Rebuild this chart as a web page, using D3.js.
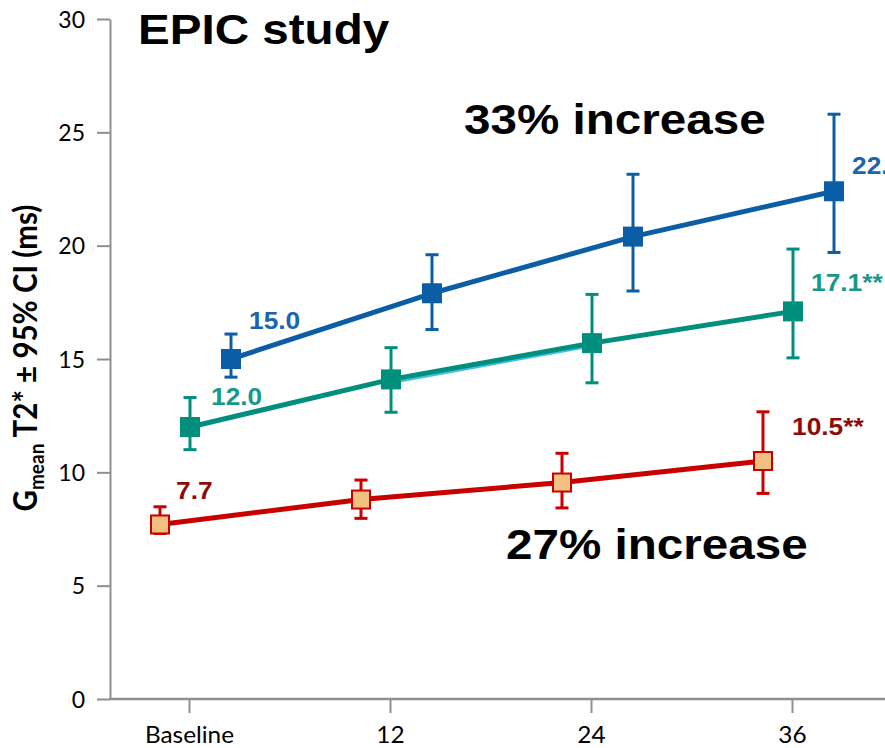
<!DOCTYPE html>
<html>
<head>
<meta charset="utf-8">
<script src="https://cdn.jsdelivr.net/npm/d3@7"></script>
<style>
  html, body { margin: 0; padding: 0; background: #fff; }
  svg { display: block; }
</style>
</head>
<body>
<svg id="chart" width="885" height="748"></svg>
<script>
// Time points (months) along the x axis
const categories = ["Baseline", "12", "24", "36"];
const yTicks = [0, 5, 10, 15, 20, 25, 30];

// Geometric mean T2* (ms) with 95% CI bounds, per cohort
const blueMean = [15.0, 17.9, 20.4, 22.4];
const blueLow  = [14.2, 16.3, 18.0, 19.7];
const blueHigh = [16.1, 19.6, 23.15, 25.8];

const tealMean = [12.0, 14.1, 15.7, 17.1];
const tealLow  = [11.0, 12.65, 13.95, 15.05];
const tealHigh = [13.3, 15.5, 17.85, 19.85];

// thin cyan trace lying just under the teal line (12 to 24 months)
const cyanMean = [null, 14.0, 15.62, null];

const redMean = [7.7, 8.8, 9.55, 10.5];
const redLow  = [7.3, 7.97, 8.43, 9.07];
const redHigh = [8.48, 9.66, 10.84, 12.67];

// value labels shown beside the first and last points
const blueLabels = ["15.0", null, null, "22.4"];
const tealLabels = ["12.0", null, null, "17.1**"];
const redLabels  = ["7.7", null, null, "10.5**"];

const svg = d3.select("#chart");

const axisX = 110, axisTop = 19, axisBottom = 699;
const x = d3.scalePoint().domain(categories).range([189, 792]);
const y = d3.scaleLinear().domain([0, 30]).range([axisBottom, axisTop]);

const axisColor = "#8f8f8f";
const tickFont = "Lato, 'Noto Sans', sans-serif";
const boldFont = "'Liberation Sans', Arial, sans-serif";
const stretch = 1.12;

// ---- y axis ----
const yAxis = d3.axisLeft(y).tickValues(yTicks).tickSize(13).tickSizeOuter(0).tickPadding(12);
const gy = svg.append("g").attr("transform", `translate(${axisX},0)`).call(yAxis);
gy.select(".domain").attr("stroke", axisColor).attr("stroke-width", 2);
gy.selectAll(".tick line").attr("stroke", axisColor).attr("stroke-width", 2);
gy.selectAll(".tick text").attr("font-family", tickFont).attr("font-size", 23)
  .attr("fill", "#000").attr("dy", "0.36em");

// ---- x axis ----
svg.append("line").attr("x1", axisX - 1).attr("x2", 885)
  .attr("y1", axisBottom).attr("y2", axisBottom)
  .attr("stroke", axisColor).attr("stroke-width", 2.5);
const xAxis = d3.axisBottom(x).tickSize(14).tickSizeOuter(0);
const gx = svg.append("g").attr("transform", `translate(0,${axisBottom})`).call(xAxis);
gx.select(".domain").remove();
gx.selectAll(".tick line").attr("stroke", axisColor).attr("stroke-width", 2);
gx.selectAll(".tick text").attr("font-family", tickFont).attr("font-size", 23)
  .attr("fill", "#000").attr("y", 44).attr("dy", 0)
  .attr("transform", "scale(1.06,1)");

// ---- y axis title ----
const yTitle = svg.append("text")
  .attr("transform", `translate(37,358) rotate(-90) scale(1,${stretch})`)
  .attr("text-anchor", "middle")
  .attr("font-family", tickFont).attr("font-weight", 700).attr("font-size", 29.5)
  .attr("fill", "#000");
yTitle.append("tspan").text("G");
yTitle.append("tspan").attr("font-size", 19).attr("dy", 6).text("mean");
yTitle.append("tspan").attr("dy", -6).text(" T2* \u00b1 95% CI (ms)");

// ---- series ----
const series = [
  { mean: redMean,  low: redLow,  high: redHigh,  labels: redLabels,  offset: -29,
    line: "#c80000", fill: "#f2c080", stroke: "#c80000", label: "#8e0b0b",
    labelPos: [[16, -25], null, null, [29, -26]] },
  { mean: tealMean, low: tealLow, high: tealHigh, labels: tealLabels, offset: 1,
    line: "#008f7c", fill: "#008f7c", stroke: "#008f7c", label: "#15998a",
    labelPos: [[21, -22], null, null, [18, -20]] },
  { mean: blueMean, low: blueLow, high: blueHigh, labels: blueLabels, offset: 42,
    line: "#0b5ea6", fill: "#0b5ea6", stroke: "#0b5ea6", label: "#1c64ab",
    labelPos: [[18, -30], null, null, [18, -17]] }
];

const px = (s, i) => x(categories[i]) + s.offset;

// cyan trace under the teal line
const tealSeries = series[1];
const cyanLine = d3.line()
  .defined(d => d.v != null)
  .x(d => px(tealSeries, d.i))
  .y(d => y(d.v));
svg.append("path")
  .attr("d", cyanLine(cyanMean.map((v, i) => ({ v, i }))))
  .attr("fill", "none").attr("stroke", "#43bfe6").attr("stroke-width", 4.5);

series.forEach(s => {
  const pts = s.mean.map((v, i) => ({ v, i, lo: s.low[i], hi: s.high[i] }));
  const g = svg.append("g");

  const line = d3.line().x(d => px(s, d.i)).y(d => y(d.v));
  g.append("path").attr("d", line(pts))
    .attr("fill", "none").attr("stroke", s.line).attr("stroke-width", 5)
    .attr("stroke-linejoin", "round");

  // error bars with caps
  const eb = g.selectAll(".eb").data(pts).enter().append("g");
  eb.append("line")
    .attr("x1", d => px(s, d.i)).attr("x2", d => px(s, d.i))
    .attr("y1", d => y(d.lo)).attr("y2", d => y(d.hi))
    .attr("stroke", s.stroke).attr("stroke-width", 3);
  ["lo", "hi"].forEach(k => {
    eb.append("line")
      .attr("x1", d => px(s, d.i) - 6.5).attr("x2", d => px(s, d.i) + 6.5)
      .attr("y1", d => y(d[k])).attr("y2", d => y(d[k]))
      .attr("stroke", s.stroke).attr("stroke-width", 3);
  });

  // square markers
  const m = 18;
  g.selectAll(".mk").data(pts).enter().append("rect")
    .attr("x", d => px(s, d.i) - m / 2).attr("y", d => y(d.v) - m / 2)
    .attr("width", m).attr("height", m)
    .attr("fill", s.fill).attr("stroke", s.stroke).attr("stroke-width", 2);

  // value labels
  pts.forEach(d => {
    const t = s.labels[d.i];
    if (!t) return;
    const [dx, dy] = s.labelPos[d.i];
    svg.append("text")
      .attr("transform", `translate(${px(s, d.i) + dx},${y(d.v) + dy}) scale(${stretch},1)`)
      .attr("font-family", boldFont).attr("font-weight", 700).attr("font-size", 23.5)
      .attr("fill", s.label).text(t);
  });
});

// ---- headline annotations ----
const headlines = [
  { text: "EPIC study", x: 138, y: 44 },
  { text: "33% increase", x: 464, y: 134 },
  { text: "27% increase", x: 506, y: 559 }
];
headlines.forEach(h => {
  svg.append("text")
    .attr("transform", `translate(${h.x},${h.y}) scale(${stretch},1)`)
    .attr("font-family", boldFont).attr("font-weight", 700).attr("font-size", 42.5)
    .attr("fill", "#000").text(h.text);
});
</script>
</body>
</html>
